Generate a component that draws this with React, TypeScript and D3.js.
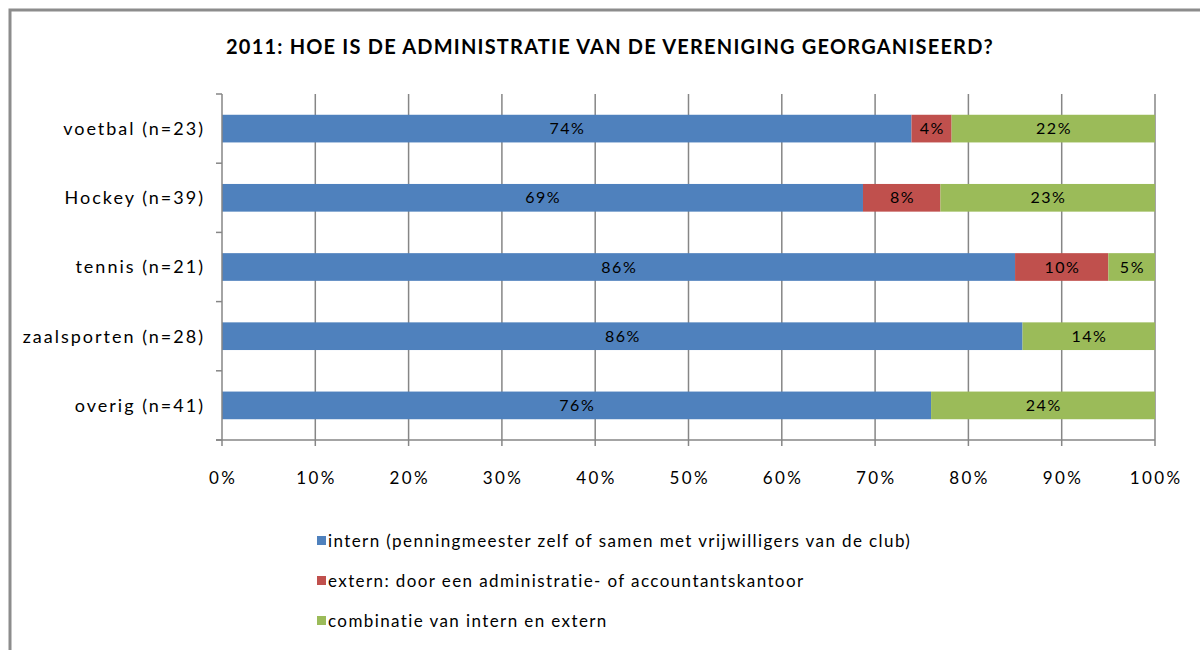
import React from "react";
import * as d3 from "d3";

const categories = ["voetbal (n=23)", "Hockey (n=39)", "tennis (n=21)", "zaalsporten (n=28)", "overig (n=41)"];
const seriesNames = [
  "intern (penningmeester zelf of samen met vrijwilligers van de club)",
  "extern: door een administratie- of accountantskantoor",
  "combinatie van intern en extern",
];
const internValues = [73.9, 68.7, 85, 85.8, 76];
const externValues = [4.3, 8.3, 10, 0, 0];
const combiValues = [21.8, 23, 5, 14.2, 24];
const internLabels = ["74%", "69%", "86%", "86%", "76%"];
const externLabels = ["4%", "8%", "10%", "", ""];
const combiLabels = ["22%", "23%", "5%", "14%", "24%"];
const tickValues = [0, 10, 20, 30, 40, 50, 60, 70, 80, 90, 100];
const colors = ["#4F81BD", "#C0504D", "#9BBB59"];
const title = "2011: HOE IS DE ADMINISTRATIE VAN DE VERENIGING GEORGANISEERD?";

const FONT = "Lato, 'Liberation Sans', sans-serif";

export default function App() {
  const x = d3.scaleLinear().domain([0, 100]).range([222, 1155]);
  const y = d3.scaleBand<string>().domain(categories).range([94, 440]).paddingInner(0.6).paddingOuter(0.3);
  const labels = [internLabels, externLabels, combiLabels];
  const stackData = categories.map((c, i) => ({ cat: c, a: internValues[i], b: externValues[i], c: combiValues[i] }));
  const stack = d3.stack<any>().keys(["a", "b", "c"])(stackData);
  const gridColor = "#868686";
  const boundaries = d3.range(categories.length + 1).map((i) => 94 + i * (346 / categories.length));

  return (
    <svg width={1200} height={650} style={{ position: "absolute", left: 0, top: 0, background: "#fff" }}>
      <rect x={10} y={10} width={1210} height={660} fill="#fff" stroke="#8c8c8c" strokeWidth={3} />
      <text x={610} y={54} textAnchor="middle" fontFamily={FONT} fontWeight="bold" fontSize={20} letterSpacing={1.2} fill="#000">
        {title}
      </text>
      {tickValues.slice(1).map((t) => (
        <line key={"g" + t} x1={x(t)} x2={x(t)} y1={94} y2={440} stroke={gridColor} strokeWidth={1.5} />
      ))}
      {stack.map((layer, si) =>
        layer.map((d, ci) =>
          d[1] - d[0] > 0 ? (
            <rect
              key={`r${si}-${ci}`}
              x={x(d[0])}
              y={y(categories[ci])}
              width={x(d[1]) - x(d[0])}
              height={y.bandwidth()}
              fill={colors[si]}
            />
          ) : null
        )
      )}
      {stack.map((layer, si) =>
        layer.map((d, ci) =>
          labels[si][ci] ? (
            <text
              key={`l${si}-${ci}`}
              x={(x(d[0]) + x(d[1])) / 2 + 0.75}
              y={(y(categories[ci]) as number) + y.bandwidth() / 2}
              dy="0.35em"
              textAnchor="middle"
              fontFamily={FONT}
              fontSize={16}
              letterSpacing={1.5}
              fill="#000"
            >
              {labels[si][ci]}
            </text>
          ) : null
        )
      )}
      <line x1={222} x2={222} y1={94} y2={440} stroke={gridColor} strokeWidth={1.5} />
      <line x1={216} x2={1155} y1={440} y2={440} stroke={gridColor} strokeWidth={1.5} />
      {boundaries.map((b, i) => (
        <line key={"yt" + i} x1={216} x2={222} y1={b} y2={b} stroke={gridColor} strokeWidth={1.5} />
      ))}
      {tickValues.map((t) => (
        <line key={"xt" + t} x1={x(t)} x2={x(t)} y1={440} y2={446} stroke={gridColor} strokeWidth={1.5} />
      ))}
      {categories.map((c) => (
        <text
          key={"c" + c}
          x={205}
          y={(y(c) as number) + y.bandwidth() / 2}
          dy="0.35em"
          textAnchor="end"
          fontFamily={FONT}
          fontSize={18}
          letterSpacing={2}
          fill="#000"
        >
          {c}
        </text>
      ))}
      {tickValues.map((t) => (
        <text key={"tl" + t} x={x(t) + 1.2} y={478} dy="0.35em" textAnchor="middle" fontFamily={FONT} fontSize={17} letterSpacing={2.4} fill="#000">
          {t + "%"}
        </text>
      ))}
      {seriesNames.map((n, i) => (
        <g key={"lg" + i} transform={`translate(317, ${541 + i * 40})`}>
          <rect x={0} y={-5} width={9} height={9} fill={colors[i]} />
          <text x={11} y={0} dy="0.35em" fontFamily={FONT} fontSize={17} letterSpacing={1.4} fill="#000">
            {n}
          </text>
        </g>
      ))}
    </svg>
  );
}
